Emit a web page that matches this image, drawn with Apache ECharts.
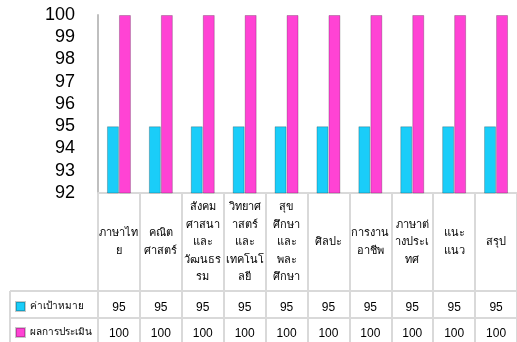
<!DOCTYPE html>
<html>
<head>
<meta charset="utf-8">
<script src="https://cdn.jsdelivr.net/npm/echarts@6/dist/echarts.min.js"></script>
<style>
  html, body { margin: 0; padding: 0; background: #fff; }
  #main { width: 517px; height: 342px; }
</style>
</head>
<body>
<div id="main"></div>
<script>
// subjects, wrapped the same way as in the table header
const categories = [
  'ภาษาไท\nย',
  'คณิต\nศาสตร์',
  'สังคม\nศาสนา\nและ\nวัฒนธร\nรม',
  'วิทยาศ\nาสตร์\nและ\nเทคโนโ\nลยี',
  'สุข\nศึกษา\nและ\nพละ\nศึกษา',
  'ศิลปะ',
  'การงาน\nอาชีพ',
  'ภาษาต่\nางประเ\nทศ',
  'แนะ\nแนว',
  'สรุป'
];
const seriesNames = ['ค่าเป้าหมาย', 'ผลการประเมิน'];
const targetValues = [95, 95, 95, 95, 95, 95, 95, 95, 95, 95];
const resultValues = [100, 100, 100, 100, 100, 100, 100, 100, 100, 100];
const yMin = 92, yMax = 100, yStep = 1;

const font = 'Tahoma, "Liberation Sans", "DejaVu Sans", sans-serif';
const gridLine = '#d9d9d9';

const legendRow = (name, top) => ({
  left: 15,
  top: top,
  padding: 0,
  itemWidth: 9,
  itemHeight: 9,
  icon: 'rect',
  textStyle: { fontSize: 10, color: '#000', fontFamily: font },
  data: [name]
});

let myChart = echarts.init(document.getElementById('main'));
let option = {
  animation: false,
  textStyle: { fontFamily: font },
  legend: [
    legendRow(seriesNames[0], 301),
    legendRow(seriesNames[1], 327)
  ],
  grid: { left: 98, top: 15, width: 420, height: 178 },
  xAxis: [
    {
      type: 'category',
      data: categories,
      axisLine: { lineStyle: { color: gridLine, width: 2 } },
      axisTick: { show: true, length: 150, lineStyle: { color: gridLine, width: 2 } },
      axisLabel: {
        interval: 0, margin: 49, verticalAlign: 'middle',
        fontSize: 11, lineHeight: 17.5, color: '#000', fontFamily: font
      }
    },
    {
      type: 'category',
      data: categories,
      position: 'bottom',
      axisLine: { show: false },
      axisTick: { show: false },
      axisLabel: {
        interval: 0, margin: 115, verticalAlign: 'middle',
        fontSize: 12, color: '#000', fontFamily: font,
        formatter: (v, i) => String(targetValues[i])
      }
    },
    {
      type: 'category',
      data: categories,
      position: 'bottom',
      axisLine: { show: false },
      axisTick: { show: false },
      axisLabel: {
        interval: 0, margin: 141, verticalAlign: 'middle',
        fontSize: 12, color: '#000', fontFamily: font,
        formatter: (v, i) => String(resultValues[i])
      }
    }
  ],
  yAxis: {
    type: 'value',
    min: yMin,
    max: yMax,
    interval: yStep,
    axisLine: { show: true, lineStyle: { color: '#bfbfbf', width: 2 } },
    axisTick: { show: false },
    splitLine: { show: false },
    axisLabel: { fontSize: 18, color: '#000', margin: 23, fontFamily: font }
  },
  graphic: [
    { type: 'line', shape: { x1: 10, y1: 291, x2: 517, y2: 291 }, style: { stroke: gridLine, lineWidth: 2 } },
    { type: 'line', shape: { x1: 10, y1: 318, x2: 517, y2: 318 }, style: { stroke: gridLine, lineWidth: 2 } },
    { type: 'line', shape: { x1: 10, y1: 291, x2: 10, y2: 342 }, style: { stroke: gridLine, lineWidth: 2 } }
  ],
  series: [
    {
      name: seriesNames[0],
      type: 'bar',
      data: targetValues,
      barWidth: 12,
      barGap: '0%',
      itemStyle: { color: '#1ACDF9', borderColor: 'rgba(0,0,0,0.22)', borderWidth: 1 }
    },
    {
      name: seriesNames[1],
      type: 'bar',
      data: resultValues,
      barWidth: 12,
      barGap: '0%',
      itemStyle: { color: '#FF43D4', borderColor: 'rgba(0,0,0,0.22)', borderWidth: 1 }
    }
  ]
};
myChart.setOption(option);
</script>
</body>
</html>
